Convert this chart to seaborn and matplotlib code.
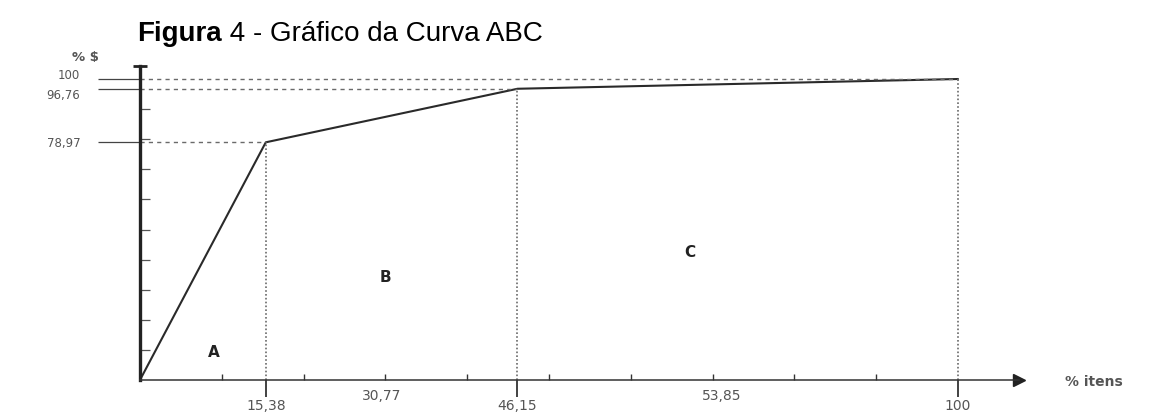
import seaborn as sns
import matplotlib.pyplot as plt
import pandas as pd

# Curva ABC: % itens acumulado x % valor acumulado
pct_itens = [0, 15.38, 46.15, 100]
pct_valor = [0, 78.97, 96.76, 100]
x_labels = ['15,38', '46,15', '100']
y_labels = ['78,97', '96,76', '100']
interval_labels = ['30,77', '53,85']
interval_pos = [29.6, 71.1]
classes = ['A', 'B', 'C']
class_x = [9.0, 30.0, 67.2]
class_y = [9.3, 34.2, 42.5]

sns.set_theme(style='white')
plt.rcParams['font.family'] = ['DejaVu Sans']

df = pd.DataFrame({'itens': pct_itens, 'valor': pct_valor})

fig = plt.figure(figsize=(11.64, 4.12), dpi=100)
ax = fig.add_axes([0, 0, 1, 1])
ax.set_facecolor('white')

# pixel layout: x 0 -> 140px, 100 -> 958px ; y 0 -> 380px, 100 -> 79px
ax.set_xlim(-17.11, 125.18)
ax.set_ylim(-10.63, 126.25)

sns.lineplot(data=df, x='itens', y='valor', sort=False, estimator=None,
             color='#2a2a2a', lw=1.5, ax=ax)

gray = '#6a6a6a'
for xi, yi in zip(pct_itens[1:], pct_valor[1:]):
    ax.hlines(yi, 0, xi, colors=gray, linestyles=(0, (3, 3)), lw=1)
    ax.vlines(xi, 0, yi, colors=gray, linestyles=(0, (1, 1.3)), lw=1.2)

# axes as spines through the origin
for s in ['top', 'right']:
    ax.spines[s].set_visible(False)
ax.spines['left'].set_position(('data', 0))
ax.spines['bottom'].set_position(('data', 0))
ax.spines['left'].set_bounds(0, 104.3)
ax.spines['bottom'].set_bounds(0, 107.5)
ax.spines['left'].set_linewidth(2.4)
ax.spines['bottom'].set_linewidth(1.1)
ax.spines['left'].set_color('#222222')
ax.spines['bottom'].set_color('#333333')
ax.plot([0], [104.3], marker='_', ms=10, mew=2, color='#222222', clip_on=False)
ax.plot([107.5], [0], marker='>', ms=9, color='#222222', clip_on=False)

ax.set_xticks(pct_itens[1:], labels=x_labels)
ax.set_xticks(range(10, 100, 10), minor=True)
ax.set_yticks(pct_valor[1:], labels=y_labels)
ax.set_yticks(range(10, 100, 10), minor=True)
ax.tick_params(axis='x', which='major', direction='out', length=12, width=1.3,
               pad=2, labelsize=10, labelcolor='#555555', color='#333333', bottom=True)
ax.tick_params(axis='x', which='minor', direction='in', length=4, width=1,
               color='#333333', bottom=True)
ax.tick_params(axis='y', which='major', direction='out', length=30, width=0.9,
               pad=13, labelsize=8.5, labelcolor='#555555', color='#444444', left=True)
ax.tick_params(axis='y', which='minor', direction='in', length=7, width=0.9,
               color='#555555', left=True)
# the two top labels sit very close: nudge them apart
ylabs = ax.get_yticklabels()
ylabs[2].set_va('baseline')
ylabs[1].set_va('top')
ax.set_xlabel('')
ax.set_ylabel('')

for lab, xp in zip(interval_labels, interval_pos):
    ax.text(xp, -5.3, lab, ha='center', va='center', fontsize=10, color='#555555')

for c, cx, cy in zip(classes, class_x, class_y):
    ax.text(cx, cy, c, ha='center', va='center', fontsize=11,
            fontweight='bold', color='#222222')

ax.text(-6.7, 107.3, '% $', ha='center', va='center', fontsize=9.5,
        fontweight='bold', color='#555555')
ax.text(113.1, -0.6, '% itens', ha='left', va='center', fontsize=10,
        fontweight='bold', color='#555555')

# title with bold "Figura"
t1 = fig.text(137 / 1164, 1 - 41 / 412, 'Figura', fontsize=20, fontweight='bold',
              family='Liberation Sans', va='baseline', color='black')
fig.canvas.draw()
ax.annotate(' 4 - Gráfico da Curva ABC', xy=(1, 0), xycoords=t1, va='bottom',
            ha='left', fontsize=20, family='Liberation Sans', color='black',
            annotation_clip=False)

fig.savefig('out.png', dpi=100)
